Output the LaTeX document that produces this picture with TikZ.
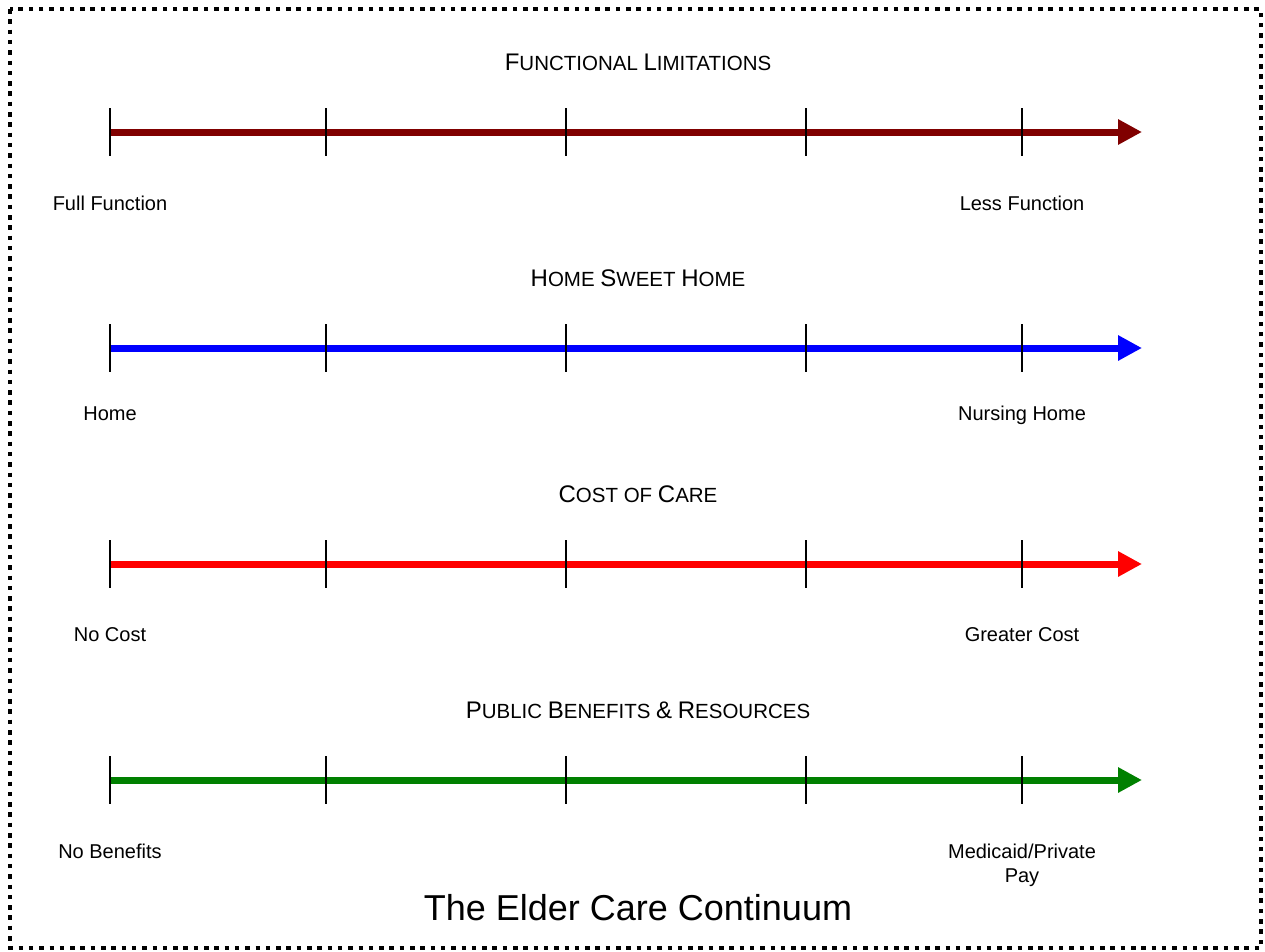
\documentclass[tikz,border=0pt]{standalone}
\usepackage{fontspec}
\setmainfont{Liberation Sans}
\usetikzlibrary{arrows.meta}
\definecolor{cFunc}{RGB}{128,0,0}
\definecolor{cHome}{RGB}{0,0,255}
\definecolor{cCost}{RGB}{255,0,0}
\definecolor{cPub}{RGB}{0,128,0}
\newcommand\BigC[1]{{\fontsize{24}{28}\selectfont #1}}
\begin{document}
\begin{tikzpicture}[x=1pt,y=-1pt,
  tickline/.style={line width=2pt, black},
  axisline/.style={line width=7pt, -{Triangle[length=24pt,width=24pt]}},
  lab/.style={anchor=base, font=\fontsize{20}{24}\selectfont, inner sep=0pt, align=center},
  ttl/.style={anchor=base, font=\fontsize{20.5}{24}\selectfont, inner sep=0pt},
  frame/.style={line width=4.5pt, dash pattern=on 4.5pt off 5.8pt}
]
\useasboundingbox (0,0) rectangle (1265,951);
\draw[frame] (10,9) rectangle (1261,948);

% rows
\foreach \r/\y/\c in {1/132/cFunc, 2/348/cHome, 3/564/cCost, 4/780/cPub}{
  \coordinate (s\r) at (110,\y);
  \coordinate (e\r) at (1142,\y);
  \draw[axisline, \c] (s\r) -- (e\r);
  \foreach \i/\x in {1/110, 2/326, 3/566, 4/806, 5/1022}{
    \coordinate (ta\r\i) at (\x,\y-24);
    \coordinate (tb\r\i) at (\x,\y+24);
    \draw[tickline] (ta\r\i) -- (tb\r\i);
  }
}

% titles
\node[ttl] (t1) at (638,70.5) {\BigC{F}UNCTIONAL \BigC{L}IMITATIONS};
\node[ttl] (t2) at (638,286.5) {\BigC{H}OME \BigC{S}WEET \BigC{H}OME};
\node[ttl] (t3) at (638,502.5) {\BigC{C}OST OF \BigC{C}ARE};
\node[ttl] (t4) at (638,718.5) {\BigC{P}UBLIC \BigC{B}ENEFITS \BigC{\&} \BigC{R}ESOURCES};

% end labels
\node[lab] (l1a) at (110,210) {Full Function};
\node[lab] (l1b) at (1022,210) {Less Function};
\node[lab] (l2a) at (110,420) {Home};
\node[lab] (l2b) at (1022,420) {Nursing Home};
\node[lab] (l3a) at (110,641) {No Cost};
\node[lab] (l3b) at (1022,641) {Greater Cost};
\node[lab] (l4a) at (110,858) {No Benefits};
\node[lab] (l4b) at (1022,882) {Medicaid/Private\\Pay};

% main title
\node[anchor=base, inner sep=0pt, font=\fontsize{36}{40}\selectfont] (main) at (638,920) {The Elder Care Continuum};
\end{tikzpicture}
\end{document}
